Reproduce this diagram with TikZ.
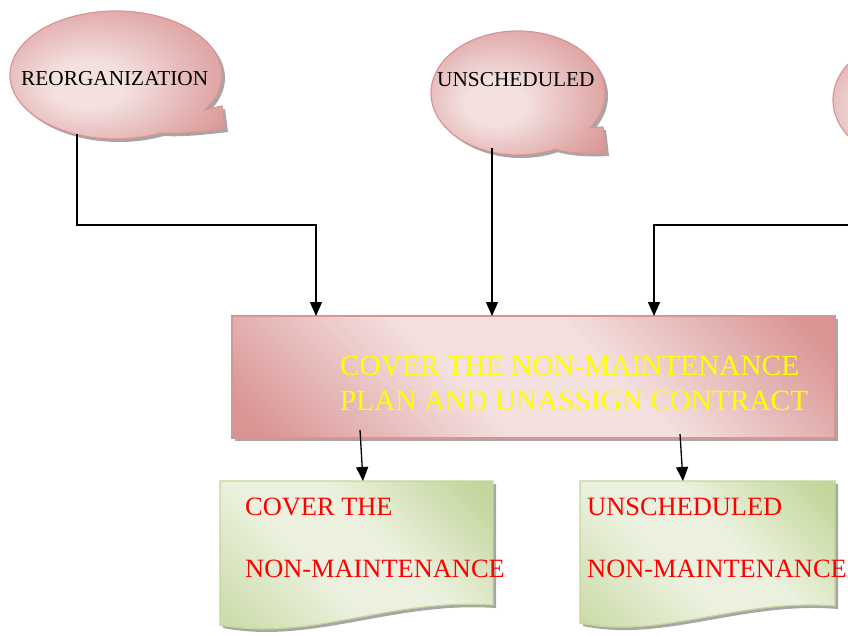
\documentclass[tikz,border=0pt]{standalone}
\usepackage{fontspec}
\setmainfont{Liberation Serif}
\usetikzlibrary{arrows.meta,shadows}
\definecolor{roseedge}{HTML}{D99594}
\definecolor{rosedark}{HTML}{D99594}
\definecolor{roselight}{HTML}{F3E0DF}
\definecolor{leafedge}{HTML}{C3D69B}
\definecolor{leafdark}{HTML}{C3D69B}
\definecolor{leaflight}{HTML}{EBF1DE}
\definecolor{shadowgray}{HTML}{A6A6A6}
\definecolor{sunyellow}{HTML}{FFFF00}
\pgfdeclareradialshading{bubbleshade}{\pgfpoint{-6bp}{-4bp}}{%
  color(0bp)=(roselight); color(8bp)=(roselight);
  color(22bp)=(rosedark!60!roselight); color(32bp)=(rosedark);
  color(50bp)=(rosedark)}
\pgfdeclareverticalshading{roseband}{100bp}{%
  color(0bp)=(rosedark); color(18bp)=(rosedark);
  color(42bp)=(roselight); color(58bp)=(roselight);
  color(82bp)=(rosedark); color(100bp)=(rosedark)}
\pgfdeclareverticalshading{leafband}{100bp}{%
  color(0bp)=(leafdark!80!leaflight); color(18bp)=(leafdark!80!leaflight);
  color(42bp)=(leaflight); color(58bp)=(leaflight);
  color(82bp)=(leafdark); color(100bp)=(leafdark)}

\begin{document}
\begin{tikzpicture}[x=1pt,y=-1pt,
  bubble/.style={
    draw=roseedge,
    line width=1.2pt,
    shading=bubbleshade,
    drop shadow={shadow xshift=3pt,shadow yshift=-3pt,fill=shadowgray,opacity=1}
  },
  planbox/.style={
    rectangle,
    draw=roseedge,
    line width=1.2pt,
    shading=roseband,
    shading angle=-45,
    minimum width=603pt,
    minimum height=122pt,
    inner sep=0pt,
    drop shadow={shadow xshift=3pt,shadow yshift=-3pt,fill=shadowgray,opacity=1}
  },
  docbox/.style={
    draw=leafedge,
    line width=1.2pt,
    shading=leafband,
    shading angle=-45,
    drop shadow={shadow xshift=3pt,shadow yshift=-3pt,fill=shadowgray,opacity=1}
  },
  bubbletext/.style={inner sep=0pt,anchor=base west,font=\fontsize{21.3}{25}\selectfont},
  plantext/.style={inner sep=0pt,anchor=base west,text=sunyellow,font=\fontsize{29.3}{34}\selectfont},
  doctext/.style={inner sep=0pt,anchor=base west,text=red,font=\fontsize{26.4}{31}\selectfont},
  wire/.style={line width=1.3pt,-{Triangle[length=14pt,width=12pt]}}]
  \useasboundingbox (0,0) rectangle (848,635);
  \clip (0,0) rectangle (848,635);

  % callouts
  \path[bubble] (116,75) ++(65:106 and 64)
    arc[start angle=65,end angle=393,x radius=106,y radius=64]
    -- (222,106) -- (225,129) .. controls (200,132) and (180,134) .. cycle;
  \path[bubble] (518,93) ++(65:87 and 62)
    arc[start angle=65,end angle=394,x radius=87,y radius=62]
    -- (603,127) -- (606,153) .. controls (585,154) and (568,153) .. cycle;
  \path[bubble] (915,100) ++(65:82 and 62)
    arc[start angle=65,end angle=394,x radius=82,y radius=62]
    -- (998,134) -- (1001,161) .. controls (980,161) and (963,160) .. cycle;
  \node[bubbletext] (reorg) at (21,85) {REORGANIZATION};
  \node[bubbletext] (unsched) at (437,86) {UNSCHEDULED};

  % plan
  \node[planbox] (plan) at (533.5,377) {};
  \node[plantext] (planA) at (340,375) {COVER THE NON-MAINTENANCE};
  \node[plantext] (planB) at (340,410) {PLAN AND UNASSIGN CONTRACT};

  % documents
  \path[docbox] (220,481) -- (493,481) -- (493,605)
    .. controls (390,598) and (310,642) .. (220,625) -- cycle;
  \path[docbox] (580,481) -- (835,481) -- (835,606)
    .. controls (740,598) and (660,640) .. (580,623) -- cycle;
  \node[doctext] (coverA) at (245,515) {COVER THE};
  \node[doctext] (coverB) at (245,577) {NON-MAINTENANCE};
  \node[doctext] (unschA) at (587,515) {UNSCHEDULED};
  \node[doctext] (unschB) at (587,577) {NON-MAINTENANCE};

  % connectors
  \coordinate (reorgfoot) at (77,134);
  \coordinate (unschfoot) at (492,148);
  \coordinate (thirdfoot) at (890,159);
  \coordinate (in1) at (316,316);
  \coordinate (in2) at (492,316);
  \coordinate (in3) at (654,316);
  \coordinate (out1) at (360,430);
  \coordinate (out2) at (680,434);
  \coordinate (in4) at (363,481);
  \coordinate (in5) at (683,481);
  \draw[wire] (reorgfoot) -- ++(0,91) -| (in1);
  \draw[wire] (unschfoot) -- (in2);
  \draw[wire] (thirdfoot) -- ++(0,66) -| (in3);
  \draw[wire] (out1) -- (in4);
  \draw[wire] (out2) -- (in5);
\end{tikzpicture}
\end{document}
